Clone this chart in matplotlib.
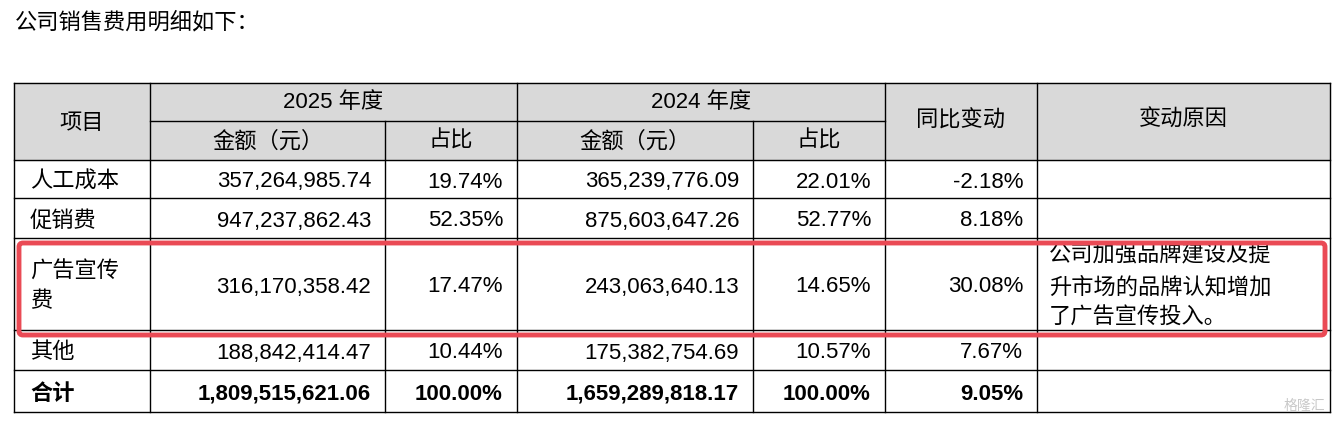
import matplotlib.pyplot as plt
from matplotlib.patches import Rectangle, FancyBboxPatch

plt.rcParams['font.family'] = ['Liberation Sans', 'Noto Sans CJK SC', 'DejaVu Sans']

title = "公司销售费用明细如下："
items = ["人工成本", "促销费", "广告宣传费", "其他", "合计"]
amount_2025 = ["357,264,985.74", "947,237,862.43", "316,170,358.42", "188,842,414.47", "1,809,515,621.06"]
share_2025 = ["19.74%", "52.35%", "17.47%", "10.44%", "100.00%"]
amount_2024 = ["365,239,776.09", "875,603,647.26", "243,063,640.13", "175,382,754.69", "1,659,289,818.17"]
share_2024 = ["22.01%", "52.77%", "14.65%", "10.57%", "100.00%"]
yoy = ["-2.18%", "8.18%", "30.08%", "7.67%", "9.05%"]
reason = ["", "", "公司加强品牌建设及提\n升市场的品牌认知增加\n了广告宣传投入。", "", ""]

W, H = 1334, 422
fig = plt.figure(figsize=(W / 100, H / 100), dpi=100)
ax = fig.add_axes([0, 0, 1, 1])
ax.set_xlim(0, W)
ax.set_ylim(H, 0)
ax.axis("off")

xs = [14, 150, 385, 517, 753, 885, 1037, 1330]
hy = [83, 121, 160]
ry = [160, 198, 238, 330, 370, 412]
fs = 16
lw = 1.0
dy = 3  # text baseline nudge

ax.text(15, 23, title, fontsize=16, va="center", ha="left")

# header background
ax.add_patch(Rectangle((xs[0], hy[0]), xs[-1] - xs[0], hy[2] - hy[0], color="#d9d9d9", zorder=0))

def hline(y, x0, x1):
    ax.plot([x0, x1], [y, y], color="black", lw=lw)

def vline(x, y0, y1):
    ax.plot([x, x], [y0, y1], color="black", lw=lw)

hline(hy[0], xs[0], xs[-1])
hline(hy[1], xs[1], xs[5])
for y in ry:
    hline(y, xs[0], xs[-1])
for i, x in enumerate(xs):
    if i in (2, 4):
        vline(x, hy[1], ry[-1])
    else:
        vline(x, hy[0], ry[-1])

mid = (hy[0] + hy[2]) / 2
ax.text((xs[0] + xs[1]) / 2, mid + 2, "项目", fontsize=fs, ha="center", va="center")
ax.text((xs[1] + xs[3]) / 2, (hy[0] + hy[1]) / 2 + 1, "2025 年度", fontsize=fs, ha="center", va="center")
ax.text((xs[3] + xs[5]) / 2, (hy[0] + hy[1]) / 2 + 1, "2024 年度", fontsize=fs, ha="center", va="center")
for a, b, t in [(1, 2, "金额（元）"), (2, 3, "占比"), (3, 4, "金额（元）"), (4, 5, "占比")]:
    ax.text((xs[a] + xs[b]) / 2, (hy[1] + hy[2]) / 2 + 1, t, fontsize=fs, ha="center", va="center")
ax.text((xs[5] + xs[6]) / 2, mid - 1, "同比变动", fontsize=fs, ha="center", va="center")
ax.text((xs[6] + xs[7]) / 2, mid - 1, "变动原因", fontsize=fs, ha="center", va="center")

for i in range(len(items)):
    yc = (ry[i] + ry[i + 1]) / 2 + dy
    bold = "bold" if i == len(items) - 1 else "normal"
    if items[i] == "广告宣传费":
        ax.text(xs[0] + 16, yc, "广告宣传\n费", fontsize=fs, ha="left", va="center", linespacing=1.5)
    else:
        ax.text(xs[0] + 16, yc, items[i], fontsize=fs, ha="left", va="center", weight=bold)
    pad = 14
    ax.text(xs[2] - pad, yc, amount_2025[i], fontsize=fs, ha="right", va="center", weight=bold)
    ax.text(xs[3] - pad, yc, share_2025[i], fontsize=fs, ha="right", va="center", weight=bold)
    ax.text(xs[4] - pad, yc, amount_2024[i], fontsize=fs, ha="right", va="center", weight=bold)
    ax.text(xs[5] - pad, yc, share_2024[i], fontsize=fs, ha="right", va="center", weight=bold)
    ax.text(xs[6] - pad, yc, yoy[i], fontsize=fs, ha="right", va="center", weight=bold)
    if reason[i]:
        ax.text(xs[6] + 12, yc, reason[i], fontsize=fs, ha="left", va="center", linespacing=1.6)

# red highlight box
ax.add_patch(FancyBboxPatch((19, 243), 1306, 92, boxstyle="round,pad=0,rounding_size=4",
                            fill=False, edgecolor="#ea4a55", lw=3.5, zorder=5))

ax.text(1325, 406, "格隆汇", fontsize=10, ha="right", va="center", color="#bbbbbb", alpha=0.8)

fig.savefig("out.png", dpi=100)
